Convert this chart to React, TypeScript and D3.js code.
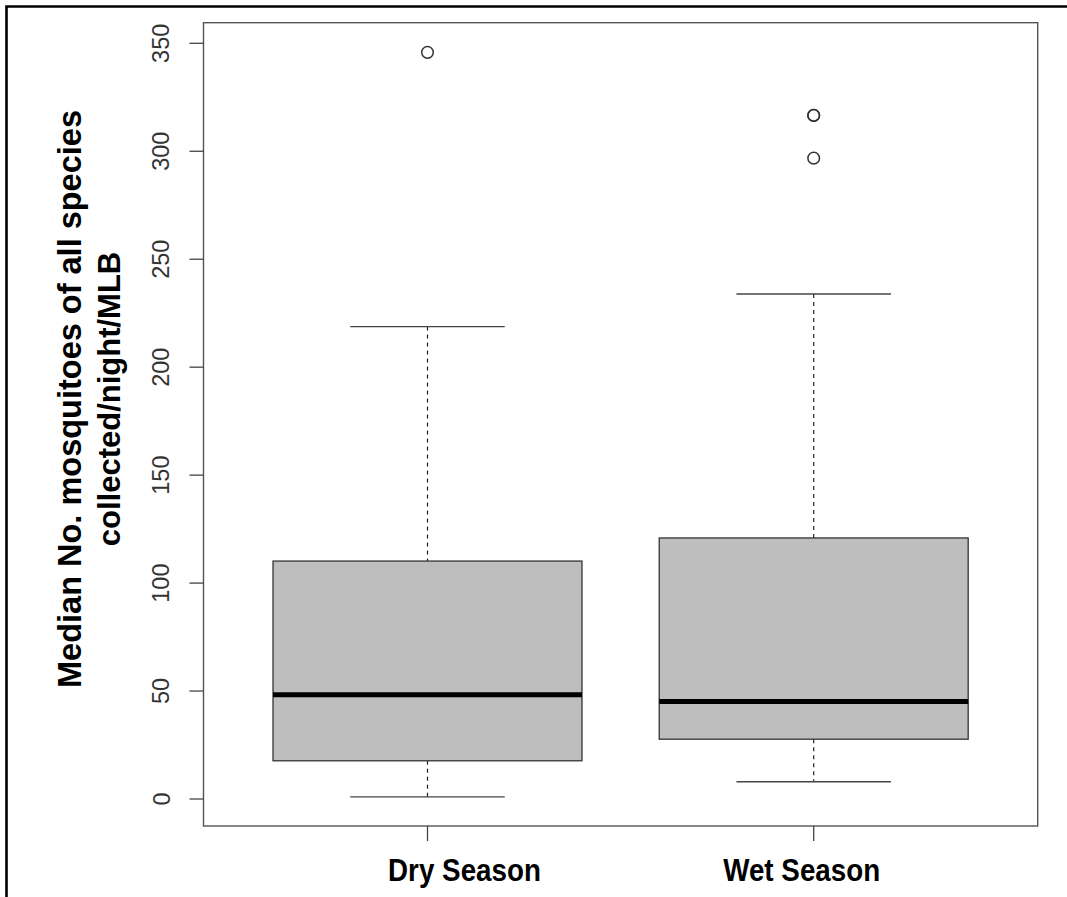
import React from "react";
import * as d3 from "d3";

const categories = ["Dry Season", "Wet Season"];
const lowerWhisker = [1, 8];
const q1 = [17.7, 27.7];
const medians = [48.3, 45.1];
const q3 = [110.2, 120.9];
const upperWhisker = [218.8, 233.9];
const outliers = [[345.8], [316.6, 316.6, 296.8]];
const yTicks = [0, 50, 100, 150, 200, 250, 300, 350];
const yLabelLines = ["Median No. mosquitoes of all species", "collected/night/MLB"];
const yLabelSizes = [32.5, 31];
const xLabelOffsets = [37, -12];

const W = 1067;
const H = 897;
const plotLeft = 203.5;
const plotRight = 1037.7;
const plotTop = 22.7;
const plotBottom = 826;

export default function App() {
  const x = d3.scaleLinear().domain([0.42, 2.58]).range([plotLeft, plotRight]);
  const y = d3.scaleLinear().domain([0, 350]).range([799, 43.3]);
  const unit = x(1) - x(0);
  const boxHalf = unit * 0.4;
  const capHalf = unit * 0.2;
  const font = "'Liberation Sans', Arial, Helvetica, sans-serif";

  return (
    <svg width={W} height={H} style={{ position: "absolute", left: 0, top: 0, background: "#fff" }}>
      {/* figure frame (top + left) */}
      <path d={`M6.5,${H} V6.5 H${W}`} fill="none" stroke="#000" strokeWidth={2.6} />
      {/* plot box */}
      <rect x={plotLeft} y={plotTop} width={plotRight - plotLeft} height={plotBottom - plotTop}
        fill="none" stroke="#555" strokeWidth={1.4} />

      {categories.map((c, i) => {
        const cx = x(i + 1);
        return (
          <g key={c}>
            {/* whiskers */}
            <line x1={cx} x2={cx} y1={y(upperWhisker[i])} y2={y(q3[i])} stroke="#222" strokeWidth={1.2} strokeDasharray="4,4" />
            <line x1={cx} x2={cx} y1={y(q1[i])} y2={y(lowerWhisker[i])} stroke="#222" strokeWidth={1.2} strokeDasharray="4,4" />
            <line x1={cx - capHalf} x2={cx + capHalf} y1={y(upperWhisker[i])} y2={y(upperWhisker[i])} stroke="#444" strokeWidth={1.4} />
            <line x1={cx - capHalf} x2={cx + capHalf} y1={y(lowerWhisker[i])} y2={y(lowerWhisker[i])} stroke="#444" strokeWidth={1.4} />
            {/* box */}
            <rect x={cx - boxHalf} y={y(q3[i])} width={boxHalf * 2} height={y(q1[i]) - y(q3[i])}
              fill="#bebebe" stroke="#333" strokeWidth={1.3} />
            <line x1={cx - boxHalf} x2={cx + boxHalf} y1={y(medians[i])} y2={y(medians[i])} stroke="#000" strokeWidth={5} />
            {/* outliers */}
            {outliers[i].map((v, k) => (
              <circle key={k} cx={cx} cy={y(v)} r={5.8} fill="none" stroke="#333" strokeWidth={1.5} />
            ))}
            {/* x tick */}
            <line x1={cx} x2={cx} y1={plotBottom} y2={plotBottom + 15} stroke="#444" strokeWidth={1.3} />
            <text x={cx + xLabelOffsets[i]} y={881} textAnchor="middle" fontFamily={font} fontWeight="bold"
              fontSize={27.8} fill="#000" transform={`translate(0,881) scale(1,1.12) translate(0,-881)`}>{c}</text>
          </g>
        );
      })}

      {/* y axis ticks */}
      {yTicks.map((t) => (
        <g key={t}>
          <line x1={plotLeft - 14} x2={plotLeft} y1={y(t)} y2={y(t)} stroke="#444" strokeWidth={1.3} />
          <text x={169.5} y={y(t)} textAnchor="middle" fontFamily={font} fontSize={23.5} fill="#333"
            transform={`rotate(-90,169.5,${y(t)})`}>{t}</text>
        </g>
      ))}

      {/* y axis label */}
      {yLabelLines.map((l, k) => {
        const bx = 81 + k * 39;
        const cy = 399;
        return (
          <text key={k} x={bx} y={cy} textAnchor="middle" fontFamily={font} fontWeight="bold" fontSize={yLabelSizes[k]}
            fill="#000" transform={`rotate(-90,${bx},${cy})`}>{l}</text>
        );
      })}
    </svg>
  );
}
